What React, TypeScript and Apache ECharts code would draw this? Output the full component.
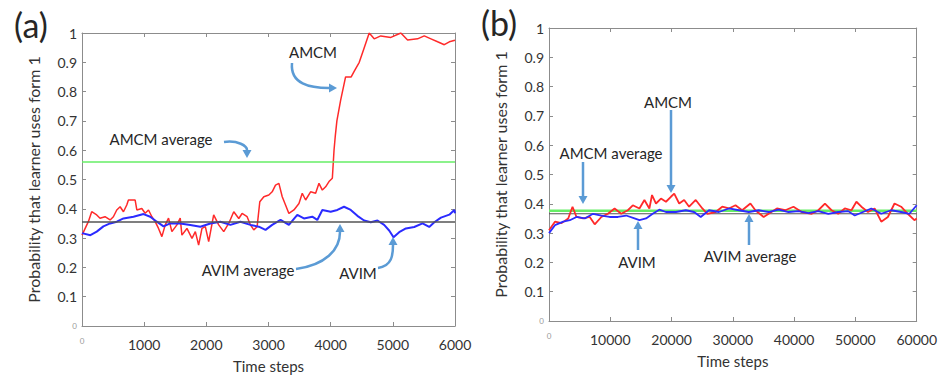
import React, { useEffect, useRef } from "react";
import * as echarts from "echarts";

// ---------- data ----------
const yMax = 1;
const yInterval = 0.1;
const aXMax = 6000;
const aXInterval = 1000;
const bXMax = 60000;
const bXInterval = 10000;

const aAmcmAverage = 0.56;
const aAvimAverage = 0.355;
const bAmcmAverage = 0.376;
const bAvimAverage = 0.366;

const aAmcm: [number, number][] = [
  [0, 0.31], [102, 0.356], [156, 0.39], [237, 0.379], [290, 0.368], [370, 0.373], [452, 0.362], [505, 0.373],
  [559, 0.396], [613, 0.407], [667, 0.39], [720, 0.413], [747, 0.43], [855, 0.43], [882, 0.396], [962, 0.401],
  [1016, 0.385], [1070, 0.396], [1124, 0.373], [1177, 0.356], [1231, 0.333], [1285, 0.305], [1339, 0.345],
  [1392, 0.368], [1446, 0.322], [1527, 0.345], [1580, 0.368], [1607, 0.31], [1688, 0.333], [1769, 0.299],
  [1823, 0.322], [1876, 0.276], [1930, 0.333], [1984, 0.339], [2038, 0.288], [2118, 0.379], [2199, 0.345],
  [2280, 0.322], [2360, 0.35], [2441, 0.39], [2522, 0.367], [2575, 0.384], [2656, 0.373], [2710, 0.345],
  [2763, 0.328], [2817, 0.339], [2860, 0.424], [2925, 0.441], [3005, 0.447], [3059, 0.458], [3113, 0.481],
  [3167, 0.487], [3221, 0.441], [3274, 0.413], [3328, 0.384], [3409, 0.396], [3490, 0.418], [3543, 0.453],
  [3597, 0.43], [3677, 0.458], [3758, 0.453], [3812, 0.487], [3866, 0.464], [3919, 0.475], [3973, 0.493],
  [4027, 0.504], [4054, 0.6], [4075, 0.65], [4100, 0.7], [4160, 0.77], [4240, 0.85], [4330, 0.85],
  [4380, 0.87], [4460, 0.9], [4540, 0.95], [4620, 1.0], [4700, 0.98], [4806, 0.99], [4968, 0.985],
  [5129, 1.0], [5237, 0.976], [5398, 0.98], [5505, 0.99], [5613, 0.98], [5720, 0.97], [5828, 0.96],
  [5909, 0.97], [6000, 0.975],
];

const aAvim: [number, number][] = [
  [0, 0.317], [135, 0.31], [237, 0.322], [344, 0.34], [452, 0.35], [560, 0.356], [667, 0.367], [828, 0.373],
  [990, 0.382], [1097, 0.373], [1204, 0.356], [1312, 0.34], [1419, 0.35], [1580, 0.35], [1742, 0.345],
  [1903, 0.339], [2065, 0.35], [2226, 0.356], [2387, 0.345], [2548, 0.356], [2710, 0.345], [2844, 0.339],
  [2952, 0.328], [3059, 0.345], [3194, 0.362], [3328, 0.345], [3463, 0.379], [3570, 0.367], [3704, 0.373],
  [3785, 0.362], [3866, 0.396], [4000, 0.39], [4108, 0.396], [4215, 0.407], [4323, 0.396],
  [4430, 0.376], [4538, 0.36], [4645, 0.354], [4753, 0.36], [4860, 0.345], [4941, 0.326], [5011, 0.303],
  [5102, 0.32], [5210, 0.333], [5344, 0.338], [5478, 0.35], [5585, 0.338], [5667, 0.354], [5774, 0.37],
  [5909, 0.38], [5989, 0.396], [6000, 0.385],
];

const bAmcm: [number, number][] = [
  [0, 0.31], [973, 0.339], [2054, 0.334], [3135, 0.35], [3838, 0.39], [4486, 0.355], [5568, 0.35],
  [6649, 0.355], [7459, 0.33], [8540, 0.355], [9622, 0.366], [10703, 0.384], [11784, 0.366], [12865, 0.378],
  [13676, 0.395], [14757, 0.384], [15568, 0.413], [16378, 0.384], [16811, 0.43], [17459, 0.401],
  [18270, 0.418], [19081, 0.407], [19892, 0.424], [20432, 0.435], [21243, 0.401], [22054, 0.413],
  [22865, 0.39], [23946, 0.413], [25027, 0.384], [25838, 0.366], [27189, 0.372], [28270, 0.39],
  [29351, 0.384], [30432, 0.395], [31514, 0.378], [32865, 0.401], [33676, 0.378], [35027, 0.355],
  [35838, 0.366], [37189, 0.384], [38541, 0.378], [39892, 0.39], [41243, 0.372], [42865, 0.366],
  [43946, 0.378], [45027, 0.401], [46108, 0.378], [47189, 0.366], [48270, 0.384], [49351, 0.378],
  [50162, 0.407], [50973, 0.39], [52054, 0.372], [53135, 0.384], [54216, 0.339], [55297, 0.355],
  [56378, 0.401], [57459, 0.39], [58541, 0.366], [59622, 0.344], [60000, 0.35],
];

const bAvim: [number, number][] = [
  [0, 0.3], [973, 0.327], [2324, 0.339], [3405, 0.344], [4486, 0.355], [5838, 0.35], [7189, 0.366],
  [8540, 0.36], [9892, 0.355], [11243, 0.355], [12595, 0.36], [13946, 0.35], [14757, 0.344], [15838, 0.35],
  [16919, 0.366], [18000, 0.38], [19081, 0.372], [20703, 0.372], [22324, 0.378], [23676, 0.372],
  [24757, 0.355], [26108, 0.378], [27730, 0.372], [29351, 0.384], [30973, 0.378], [32595, 0.372],
  [34216, 0.378], [35838, 0.372], [37459, 0.38], [39081, 0.372], [40703, 0.375], [42324, 0.368],
  [43946, 0.375], [45568, 0.366], [47189, 0.372], [48811, 0.375], [49892, 0.36], [51243, 0.372],
  [52595, 0.384], [54216, 0.366], [55838, 0.378], [57459, 0.372], [58811, 0.366], [60000, 0.395],
];

// ---------- styles ----------
const FONT = "Lato, 'Open Sans', sans-serif";
const AXIS_COLOR = "#8c8c8c";
const LABEL_COLOR = "#333333";
const RED = "#ff2a2a";
const BLUE = "#2b2bff";
const GREEN = "#66ee66";
const BLACK = "#555555";
const ARROW = "#5b9bd5";

const rich = { z: { fontSize: 8, color: "#999999", fontFamily: FONT } };

function fmt(v: number) {
  const n = Number(v.toFixed(1));
  return n === 0 ? "{z|0}" : String(n);
}

function xAxes(gridIndex: number, max: number, interval: number) {
  const lineStyle = { color: AXIS_COLOR, width: 1 };
  return [
    {
      type: "value", gridIndex, min: 0, max, interval, position: "bottom",
      axisLine: { show: true, onZero: false, lineStyle },
      axisTick: { show: true, inside: true, length: 4, lineStyle },
      splitLine: { show: false },
      axisLabel: {
        formatter: (v: number) => (v === 0 ? "{z|0}" : String(v)),
        rich, color: LABEL_COLOR, fontSize: 14, fontFamily: FONT, margin: 11,
        showMinLabel: true, showMaxLabel: true,
      },
      name: "Time steps", nameLocation: "middle", nameGap: 32,
      nameTextStyle: { color: LABEL_COLOR, fontSize: 15, fontFamily: FONT },
    },
    {
      type: "value", gridIndex, min: 0, max, interval, position: "top",
      axisLine: { show: true, onZero: false, lineStyle },
      axisTick: { show: true, inside: true, length: 4, lineStyle },
      splitLine: { show: false }, axisLabel: { show: false },
    },
  ];
}

function yAxes(gridIndex: number) {
  const lineStyle = { color: AXIS_COLOR, width: 1 };
  return [
    {
      type: "value", gridIndex, min: 0, max: yMax, interval: yInterval, position: "left",
      axisLine: { show: true, onZero: false, lineStyle },
      axisTick: { show: true, inside: true, length: 4, lineStyle },
      splitLine: { show: false },
      axisLabel: {
        formatter: fmt, rich, color: LABEL_COLOR, fontSize: 14, fontFamily: FONT, margin: 5,
        showMinLabel: true, showMaxLabel: true,
      },
      name: "Probability that learner uses form 1", nameLocation: "middle", nameGap: 41, nameRotate: 90,
      nameTextStyle: { color: LABEL_COLOR, fontSize: 16, fontFamily: FONT },
    },
    {
      type: "value", gridIndex, min: 0, max: yMax, interval: yInterval, position: "right",
      axisLine: { show: true, onZero: false, lineStyle },
      axisTick: { show: true, inside: true, length: 4, lineStyle },
      splitLine: { show: false }, axisLabel: { show: false },
    },
  ];
}

function lineSeries(data: [number, number][], color: string, xi: number, yi: number, width = 1.5, z = 2) {
  return {
    type: "line", data, xAxisIndex: xi, yAxisIndex: yi, showSymbol: false, symbol: "none",
    lineStyle: { color, width }, itemStyle: { color }, z, silent: true,
  };
}

function avgSeries(v: number, max: number, color: string, xi: number, yi: number, width: number, z: number) {
  return lineSeries([[0, v], [max, v]], color, xi, yi, width, z);
}

function arrow(x1: number, y1: number, c1x: number, c1y: number, c2x: number, c2y: number, x2: number, y2: number) {
  const dx = x2 - c2x, dy = y2 - c2y;
  const len = Math.hypot(dx, dy) || 1;
  const ux = dx / len, uy = dy / len;
  const size = 8, half = 4.5;
  const bx = x2 - ux * size, by = y2 - uy * size;
  const px = -uy, py = ux;
  return [
    {
      type: "bezierCurve", silent: true,
      shape: { x1, y1, cpx1: c1x, cpy1: c1y, cpx2: c2x, cpy2: c2y, x2: bx, y2: by },
      style: { stroke: ARROW, lineWidth: 2.5, fill: null },
    },
    {
      type: "polygon", silent: true,
      shape: { points: [[x2, y2], [bx + px * half, by + py * half], [bx - px * half, by - py * half]] },
      style: { fill: ARROW },
    },
  ];
}

function straight(x: number, y1: number, y2: number) {
  const m = (y1 + y2) / 2;
  return arrow(x, y1, x, m, x, m, x, y2);
}

function label(text: string, x: number, y: number, size = 15) {
  return {
    type: "text", silent: true,
    style: { text, x, y, fill: "#262626", font: `${size}px ${FONT}`, align: "center", verticalAlign: "middle" },
  };
}

export default function App() {
  const ref = useRef<HTMLDivElement>(null);
  useEffect(() => {
    if (!ref.current) return;
    const chart = echarts.init(ref.current, null, { renderer: "svg" });
    chart.setOption({
      animation: false,
      backgroundColor: "#ffffff",
      grid: [
        { left: 82, top: 33, width: 373, height: 293 },
        { left: 549, top: 28, width: 370, height: 293 },
      ],
      xAxis: [...xAxes(0, aXMax, aXInterval), ...xAxes(1, bXMax, bXInterval)],
      yAxis: [...yAxes(0), ...yAxes(1)],
      series: [
        lineSeries(aAmcm, RED, 0, 0, 1.5, 2),
        lineSeries(aAvim, BLUE, 0, 0, 2, 3),
        avgSeries(aAmcmAverage, aXMax, GREEN, 0, 0, 1.5, 4),
        avgSeries(aAvimAverage, aXMax, BLACK, 0, 0, 1.5, 4),
        lineSeries(bAmcm, RED, 2, 2, 1.8, 2),
        lineSeries(bAvim, BLUE, 2, 2, 1.8, 3),
        avgSeries(bAmcmAverage, bXMax, GREEN, 2, 2, 2.5, 1),
        avgSeries(bAvimAverage, bXMax, BLACK, 2, 2, 1, 1),
      ],
      graphic: [
        label("(a)", 31, 24, 34),
        label("(b)", 499, 22, 34),
        // panel a annotations
        label("AMCM", 313, 52),
        ...arrow(292, 63, 290, 84, 310, 88, 337, 88),
        label("AMCM average", 161, 139),
        ...arrow(224, 142, 238, 140, 247, 146, 247, 158),
        label("AVIM average", 248, 270),
        ...arrow(296, 269, 325, 265, 340, 250, 340, 224),
        label("AVIM", 358, 273),
        ...arrow(378, 268, 392, 266, 393, 255, 393, 237),
        // panel b annotations
        label("AMCM", 668, 102),
        ...straight(671, 110, 193),
        label("AMCM average", 611, 153),
        ...straight(583, 162, 204),
        label("AVIM", 637, 262),
        ...straight(638, 250, 221),
        label("AVIM average", 750, 256),
        ...straight(749, 245, 214),
      ],
    });
    return () => chart.dispose();
  }, []);
  return (
    <div
      ref={ref}
      style={{ position: "absolute", left: 0, top: 0, width: 940, height: 379, background: "#fff" }}
    />
  );
}
